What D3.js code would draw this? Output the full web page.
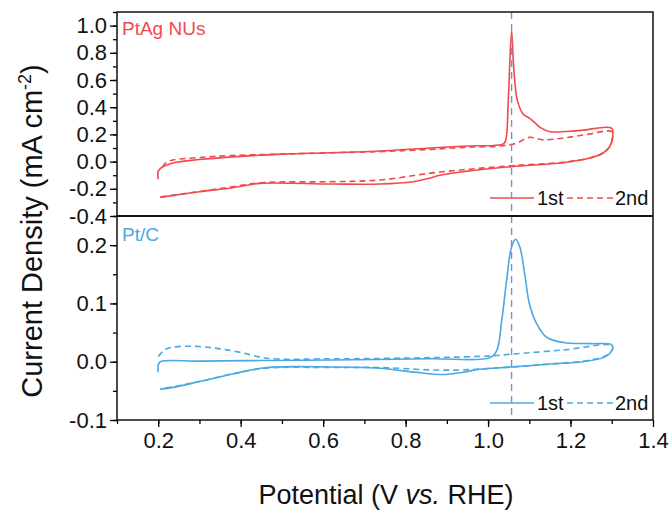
<!DOCTYPE html>
<html>
<head>
<meta charset="utf-8">
<script src="https://cdn.jsdelivr.net/npm/d3@7"></script>
<style>
  body { margin: 0; background: #fff; }
  text { font-family: "Liberation Sans", Arial, sans-serif; }
</style>
</head>
<body>
<script>
// CV curves, [potential, current density]
var ptag1st = [[0.2,-0.13],[0.2,-0.07],[0.21,-0.04],[0.236,-0.01],[0.3,0.015],[0.38,0.035],[0.5,0.055],[0.62,0.065],
  [0.75,0.08],[0.86,0.1],[0.95,0.115],[1.037,0.13],[1.043,0.16],[1.049,0.45],[1.057,0.96],[1.062,0.70],[1.071,0.45],
  [1.085,0.35],[1.10,0.32],[1.112,0.29],[1.127,0.25],[1.15,0.22],[1.22,0.228],[1.3,0.245],[1.302,0.18],[1.295,0.11],
  [1.279,0.063],[1.247,0.026],[1.182,-0.008],[1.057,-0.037],[0.94,-0.074],[0.883,-0.10],[0.86,-0.12],[0.818,-0.148],
  [0.738,-0.165],[0.617,-0.165],[0.447,-0.16],[0.38,-0.192],[0.3,-0.222],[0.205,-0.263]];
var ptag2nd = [[0.21,-0.04],[0.22,-0.005],[0.236,0.012],[0.3,0.03],[0.38,0.045],[0.5,0.055],[0.62,0.065],[0.75,0.075],
  [0.86,0.09],[0.95,0.105],[1.03,0.115],[1.069,0.135],[1.10,0.178],[1.133,0.16],[1.18,0.172],[1.24,0.2],[1.3,0.22],
  [1.302,0.17],[1.295,0.11],[1.279,0.063],[1.247,0.026],[1.182,-0.005],[1.057,-0.03],[0.94,-0.06],[0.86,-0.085],
  [0.74,-0.135],[0.617,-0.148],[0.45,-0.155],[0.38,-0.185],[0.3,-0.22],[0.205,-0.26]];
var ptc1st = [[0.2,-0.018],[0.2,-0.006],[0.205,0.0],[0.3,0.001],[0.45,0.002],[0.62,0.003],[0.86,0.005],[1.005,0.007],
  [1.021,0.019],[1.033,0.07],[1.045,0.14],[1.057,0.197],[1.067,0.21],[1.077,0.197],[1.09,0.145],[1.10,0.10],
  [1.118,0.065],[1.142,0.042],[1.183,0.033],[1.25,0.031],[1.30,0.029],[1.302,0.022],[1.295,0.014],[1.28,0.007],
  [1.23,0.0],[1.15,-0.004],[1.057,-0.009],[0.98,-0.013],[0.94,-0.018],[0.89,-0.022],[0.835,-0.019],[0.75,-0.012],
  [0.697,-0.01],[0.62,-0.009],[0.463,-0.01],[0.38,-0.021],[0.30,-0.034],[0.236,-0.044],[0.205,-0.047]];
var ptc2nd = [[0.2,0.009],[0.215,0.02],[0.236,0.025],[0.3,0.026],[0.35,0.022],[0.4,0.016],[0.463,0.006],[0.62,0.005],
  [0.86,0.007],[1.005,0.01],[1.057,0.013],[1.18,0.02],[1.30,0.028],[1.302,0.022],[1.29,0.012],[1.25,0.003],
  [1.15,-0.004],[1.057,-0.009],[0.94,-0.014],[0.86,-0.014],[0.74,-0.01],[0.62,-0.01],[0.463,-0.011],[0.38,-0.021],
  [0.3,-0.034],[0.236,-0.043],[0.205,-0.046]];

var xTicks = [0.2, 0.4, 0.6, 0.8, 1.0, 1.2, 1.4];
var topTicks = [-0.4, -0.2, 0.0, 0.2, 0.4, 0.6, 0.8, 1.0];
var botTicks = [-0.1, 0.0, 0.1, 0.2];
var markerV = 1.057;

var red = "#f04a4e", blue = "#4aa9e2", purple = "#8c86d2";

var left = 117, right = 653, plotTop = 12, mid = 216, bottom = 420;

var svg = d3.select("body").append("svg")
    .attr("width", 672)
    .attr("height", 512);

var x = d3.scaleLinear().domain([0.1, 1.4]).range([left, right]);
var yTop = d3.scaleLinear().domain([-0.4, 1.1]).range([mid, plotTop]);
var yBot = d3.scaleLinear().domain([-0.1, 0.25]).range([bottom, mid]);

function drawPanel(y, ticks, minorStep, s1, s2, color, name, labelY, legendY) {
    var dom = y.domain();
    var line = d3.line()
        .x(function(d) { return x(d[0]); })
        .y(function(d) { return y(d[1]); })
        .curve(d3.curveCatmullRom.alpha(0.5));

    svg.append("path").datum(s2).attr("d", line)
        .attr("fill", "none").attr("stroke", color).attr("stroke-width", 1.6)
        .attr("stroke-dasharray", "6,4");
    svg.append("path").datum(s1).attr("d", line)
        .attr("fill", "none").attr("stroke", color).attr("stroke-width", 1.6);

    // minor ticks
    var minors = d3.range(Math.ceil(dom[0] / minorStep - 1e-6), Math.floor(dom[1] / minorStep + 1e-6) + 1)
        .map(function(i) { return i * minorStep; });
    svg.append("g").attr("transform", "translate(" + left + ",0)")
        .call(d3.axisLeft(y).tickValues(minors).tickSize(4).tickFormat(""))
        .call(function(g) { g.select(".domain").remove(); g.selectAll("line").attr("stroke-width", 1.3); });

    svg.append("g").attr("transform", "translate(" + left + ",0)")
        .call(d3.axisLeft(y).tickValues(ticks).tickSize(7).tickPadding(3))
        .call(function(g) {
            g.select(".domain").remove();
            g.selectAll("line").attr("stroke-width", 1.3);
            g.selectAll("text").attr("font-size", 22).attr("fill", "#111")
                .text(function(d) { return d3.format(".1f")(d).replace("\u2212", "-"); });
        });

    svg.append("text").attr("x", left + 5).attr("y", labelY)
        .attr("font-size", 19).attr("fill", color).text(name);

    // legend
    svg.append("line").attr("x1", 490).attr("x2", 534).attr("y1", legendY).attr("y2", legendY)
        .attr("stroke", color).attr("stroke-width", 1.6);
    svg.append("text").attr("x", 537).attr("y", legendY + 7).attr("font-size", 20).attr("fill", "#111").text("1st");
    svg.append("line").attr("x1", 567).attr("x2", 613).attr("y1", legendY).attr("y2", legendY)
        .attr("stroke", color).attr("stroke-width", 1.6).attr("stroke-dasharray", "6,4");
    svg.append("text").attr("x", 615).attr("y", legendY + 7).attr("font-size", 20).attr("fill", "#111").text("2nd");
}

drawPanel(yTop, topTicks, 0.1, ptag1st, ptag2nd, red, "PtAg NUs", 35, 198);
drawPanel(yBot, botTicks, 0.05, ptc1st, ptc2nd, blue, "Pt/C", 241, 403);

// vertical reference line
svg.append("line").attr("x1", x(markerV)).attr("x2", x(markerV))
    .attr("y1", plotTop).attr("y2", bottom)
    .attr("stroke", purple).attr("stroke-width", 1.4).attr("stroke-dasharray", "7,5");

// frames
svg.append("rect").attr("x", left).attr("y", plotTop).attr("width", right - left).attr("height", bottom - plotTop)
    .attr("fill", "none").attr("stroke", "#111").attr("stroke-width", 1.5);
svg.append("line").attr("x1", left).attr("x2", right).attr("y1", mid).attr("y2", mid)
    .attr("stroke", "#111").attr("stroke-width", 2);

// x axis
svg.append("g").attr("transform", "translate(0," + bottom + ")")
    .call(d3.axisBottom(x).tickValues(d3.range(1, 14).map(function(i) { return i / 10; })).tickSize(4).tickFormat(""))
    .call(function(g) { g.select(".domain").remove(); g.selectAll("line").attr("stroke-width", 1.3); });
svg.append("g").attr("transform", "translate(0," + bottom + ")")
    .call(d3.axisBottom(x).tickValues(xTicks).tickSize(7).tickPadding(5).tickFormat(d3.format(".1f")))
    .call(function(g) {
        g.select(".domain").remove();
        g.selectAll("line").attr("stroke-width", 1.3);
        g.selectAll("text").attr("font-size", 22).attr("fill", "#111");
    });

svg.append("text").attr("x", 386).attr("y", 504).attr("text-anchor", "middle")
    .attr("font-size", 27).attr("fill", "#111")
    .html('Potential (V <tspan font-style="italic">vs.</tspan> RHE)');

svg.append("text").attr("transform", "translate(42,231) rotate(-90)").attr("text-anchor", "middle")
    .attr("font-size", 29).attr("fill", "#111")
    .html('Current Density (mA cm<tspan dy="-11" font-size="18">-2</tspan><tspan dy="11">)</tspan>');
</script>
</body>
</html>
